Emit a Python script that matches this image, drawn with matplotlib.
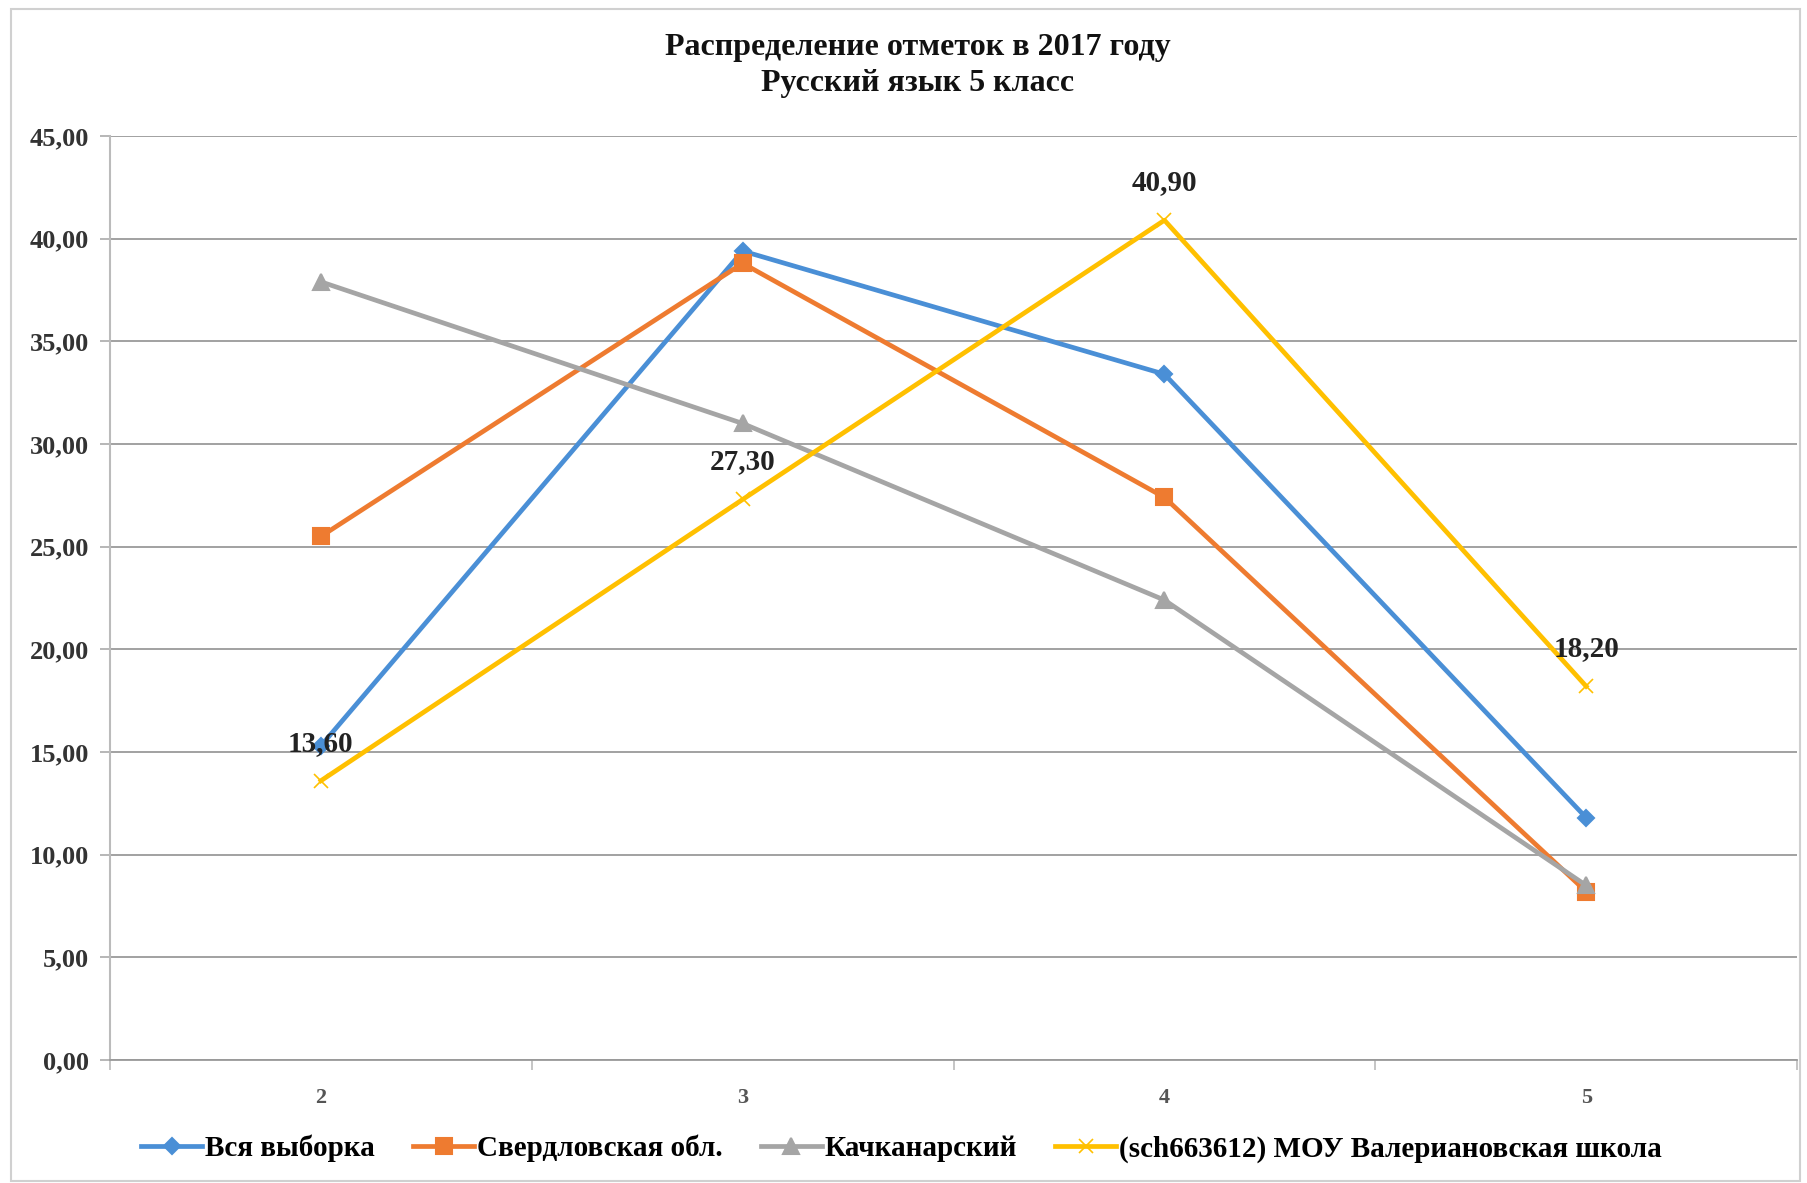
import matplotlib
matplotlib.use("Agg")
import matplotlib.pyplot as plt
from matplotlib.patches import Rectangle
from matplotlib.ticker import FixedLocator, FuncFormatter

categories = ["2", "3", "4", "5"]
series_names = ["Вся выборка", "Свердловская обл.", "Качканарский",
                "(sch663612) МОУ Валериановская школа"]
vsya = [15.3, 39.4, 33.4, 11.8]
sverd = [25.5, 38.8, 27.4, 8.2]
kachk = [37.9, 31.0, 22.4, 8.5]
school = [13.60, 27.30, 40.90, 18.20]
yticks = [0, 5, 10, 15, 20, 25, 30, 35, 40, 45]
title = "Распределение отметок в 2017 году\nРусский язык 5 класс"

plt.rcParams['font.family'] = ['Liberation Serif', 'DejaVu Serif']
plt.rcParams['font.weight'] = 'bold'

fig = plt.figure(figsize=(18.07, 11.83), dpi=100)
ax = fig.add_axes([0.0609, 0.104, 0.9336, 0.781])

x = [2, 3, 4, 5]
colors = ["#4A8FD6", "#EE7B30", "#A5A5A5", "#FFC000"]
markers = ["D", "s", "^", "x"]
msizes = [8, 11, 11, 10]
data = [vsya, sverd, kachk, school]
for vals, c, m, ms, name in zip(data, colors, markers, msizes, series_names):
    ax.plot(x, vals, color=c, lw=3.4, marker=m, markersize=ms,
            markeredgewidth=1.5 if m != "x" else 1.2, label=name,
            solid_joinstyle='round', zorder=3)

for xi, v in zip(x, school):
    ax.annotate(f"{v:.2f}".replace(".", ","), (xi, v), xytext=(0, 27),
                textcoords="offset points", ha="center", va="center",
                fontsize=21, fontweight="bold", color="#222222", zorder=5)

ax.set_xlim(1.5, 5.5)
ax.set_ylim(0, 45)
ax.set_yticks(yticks)
ax.yaxis.set_major_formatter(FuncFormatter(lambda v, p: f"{v:.2f}".replace(".", ",")))
ax.set_xticks(x)
ax.set_xticklabels(categories)
ax.xaxis.set_minor_locator(FixedLocator([1.5, 2.5, 3.5, 4.5, 5.5]))
ax.tick_params(axis='x', which='major', length=0, pad=20, labelsize=16, colors="#555555")
ax.tick_params(axis='x', which='minor', length=7, color="#BBBBBB", width=1.2)
ax.tick_params(axis='y', length=7, color="#AAAAAA", width=1.2, pad=8, labelsize=19,
               labelcolor="#333333")
ax.grid(axis='y', color="#9A9A9A", lw=1.3, zorder=0)
for s in ["top", "right"]:
    ax.spines[s].set_visible(False)
ax.spines['left'].set_color("#BBBBBB")
ax.spines['left'].set_linewidth(1.5)
ax.spines['bottom'].set_color("#9A9A9A")
ax.spines['bottom'].set_linewidth(1.3)

fig.text(0.508, 0.9445, title, ha="center", va="center", fontsize=23,
         fontweight="bold", linespacing=1.3, color="#111111")

leg = fig.legend(loc="center", bbox_to_anchor=(0.499, 0.029), ncol=4, frameon=False,
                 fontsize=21, handlelength=2.1, columnspacing=1.3, handletextpad=0.1)

fig.patches.append(Rectangle((0.006, 0.002), 0.99, 0.99, transform=fig.transFigure,
                             fill=False, edgecolor="#D0D0D0", lw=1.5))

fig.savefig("out.png", dpi=100)
